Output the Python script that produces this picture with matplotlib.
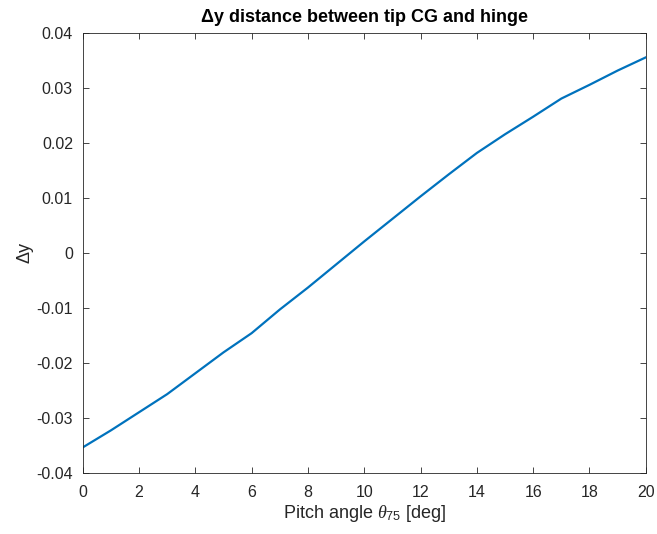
import matplotlib
matplotlib.use("Agg")
import matplotlib.pyplot as plt

pitch_deg = [0, 1, 2, 3, 4, 5, 6, 7, 8, 9, 10, 11, 12, 13, 14, 15, 16, 17, 18, 19, 20]
delta_y = [-0.0354, -0.0323, -0.0290, -0.0257, -0.0219, -0.0181, -0.0146, -0.0103,
           -0.0063, -0.0021, 0.0021, 0.0062, 0.0103, 0.0143, 0.0182, 0.0216, 0.0248,
           0.0281, 0.0306, 0.0332, 0.0356]
xticks = list(range(0, 21, 2))
yticks = [-0.04, -0.03, -0.02, -0.01, 0, 0.01, 0.02, 0.03, 0.04]
ytick_labels = ["-0.04", "-0.03", "-0.02", "-0.01", "0", "0.01", "0.02", "0.03", "0.04"]

plt.rcParams['font.family'] = ['Liberation Sans', 'DejaVu Sans']
plt.rcParams['mathtext.fontset'] = 'custom'
plt.rcParams['mathtext.rm'] = 'Liberation Sans'
plt.rcParams['mathtext.it'] = 'Liberation Serif:italic'
plt.rcParams['mathtext.bf'] = 'Liberation Sans:bold'

txt = '#262626'
spine_c = '#262626'

fig = plt.figure(figsize=(6.57, 5.34), dpi=100)
ax = fig.add_axes([0.1259, 0.1148, 0.857, 0.823])
ax.plot(pitch_deg, delta_y, color='#0072BD', linewidth=1.6)
ax.set_xlim(0, 20)
ax.set_ylim(-0.04, 0.04)
ax.set_xticks(xticks)
ax.set_yticks(yticks)
ax.set_yticklabels(ytick_labels)
ax.tick_params(direction='in', top=True, right=True, length=4, width=0.6,
               colors=spine_c, labelcolor=txt, labelsize=11.5)
ax.tick_params(axis='x', pad=9)
ax.tick_params(axis='y', pad=7)
for s in ax.spines.values():
    s.set_color(spine_c)
    s.set_linewidth(0.6)

ax.set_title('Δy distance between tip CG and hinge', fontsize=13,
             fontweight='bold', color='black', pad=8)
ax.set_xlabel(r'Pitch angle $\theta_{75}$ [deg]', fontsize=13, color=txt, labelpad=2)
ax.set_ylabel('Δy', fontsize=13, color=txt, labelpad=2)

fig.savefig('out.png', dpi=100, facecolor='white')
